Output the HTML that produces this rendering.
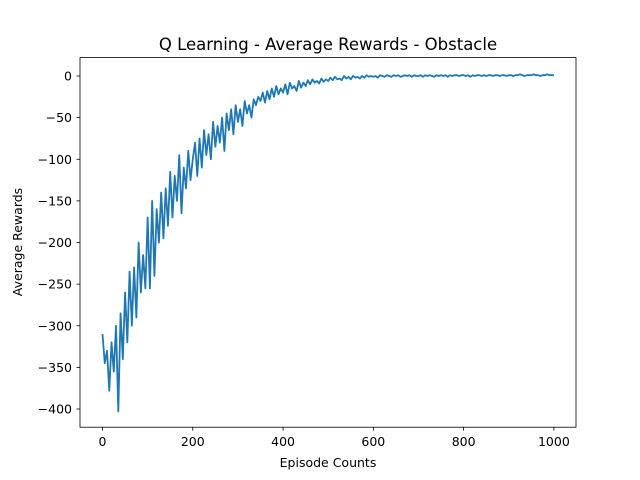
<!DOCTYPE html>
<html><head><meta charset="utf-8"><style>
body{margin:0;background:#fff}
svg{display:block;font-family:"DejaVu Sans","Liberation Sans",sans-serif}
</style></head><body>
<svg id="chart" width="640" height="480" viewBox="0 0 640 480">
<rect width="640" height="480" fill="#fff"/>
<text x="328" y="50" font-size="16.5" text-anchor="middle">Q Learning - Average Rewards - Obstacle</text>
<text x="328" y="467" font-size="12.5" text-anchor="middle">Episode Counts</text>
<text transform="translate(22,242) rotate(-90)" font-size="12.5" text-anchor="middle">Average Rewards</text>
<g id="ticks"></g>
<path id="series" fill="none" stroke="#1f77b4" stroke-width="1.8" stroke-linejoin="round"/>
<rect x="80" y="57.6" width="496" height="369.6" fill="none" stroke="#000" stroke-width="0.8"/>
</svg>
<script>
const xTicks=[0,200,400,600,800,1000];
const yTicks=[0,-50,-100,-150,-200,-250,-300,-350,-400];
const episodeStep=5;
const rewards=[
-310,-345,-330,-378,-320,-355,-300,-403,-285,-340,-260,-320,-235,-300,-230,-290,-200,-260,-215,-255,
-170,-255,-150,-240,-160,-200,-140,-195,-135,-180,-115,-170,-120,-150,-95,-165,-110,-135,-90,-125,
-100,-80,-120,-75,-110,-65,-95,-70,-100,-55,-85,-60,-80,-50,-90,-45,-65,-40,-70,-35,
-55,-40,-60,-30,-45,-35,-50,-28,-35,-25,-30,-20,-32,-18,-28,-15,-25,-12,-22,-15,
-20,-10,-22,-8,-15,-12,-18,-6,-14,-8,-12,-5,-10,-4,-8,-6,-9,-3,-7,-4,
-6,-2,-5,-1,-4,-3,-5,0,-3,-1,-4,0,-2,-1,-3,0,-2,1,-1,0,
-1,0,-2,1,0,-1,1,0,-1,1,0,1,-1,0,1,0,1,-1,1,0,
0,1,-1,1,0,1,0,-1,1,0,1,0,1,-1,1,0,1,1,0,1,
1,0,1,-1,1,0,1,1,0,1,0,1,1,0,1,1,0,1,1,0,
1,1,0,1,1,2,1,0,1,1,1,2,1,1,0,1,1,2,1,1,1
];
const X=v=>102.5+v*0.4514;
const Y=v=>76-v*0.8325;
const ns="http://www.w3.org/2000/svg";
const g=document.getElementById('ticks');
function mk(tag,attrs){const e=document.createElementNS(ns,tag);for(const k in attrs)e.setAttribute(k,attrs[k]);g.appendChild(e);return e;}
xTicks.forEach(t=>{
 const l=mk('line',{x1:X(t),x2:X(t),y1:427.2,y2:430.7,stroke:'#000','stroke-width':0.8});
 
 
 const tx=mk('text',{x:X(t),y:446,'font-size':12.5,'text-anchor':'middle'});
 
 
 tx.textContent=t;
});
yTicks.forEach(t=>{
 const l=mk('line',{x1:76.5,x2:80,y1:Y(t),y2:Y(t),stroke:'#000','stroke-width':0.8});
 
 
 const tx=mk('text',{x:72,y:Y(t)+4.5,'font-size':12.5,'text-anchor':'end'});
 
 
 tx.textContent=t<0?'\u2212'+(-t):t;
});
document.getElementById('series').setAttribute('d',rewards.map((v,i)=>(i?'L':'M')+X(i*episodeStep).toFixed(2)+' '+Y(v).toFixed(2)).join(' '));
</script>
</body></html>
